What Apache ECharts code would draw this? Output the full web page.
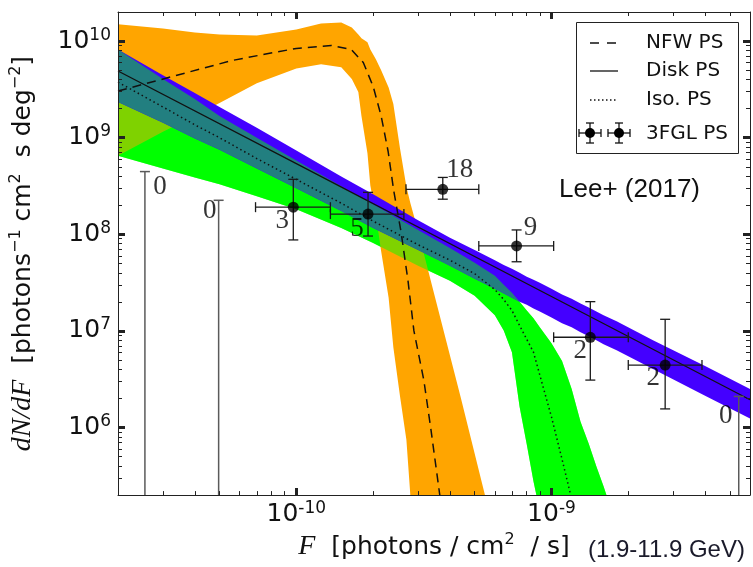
<!DOCTYPE html>
<html>
<head>
<meta charset="utf-8">
<script src="https://cdn.jsdelivr.net/npm/echarts@6/dist/echarts.min.js"></script>
<style>
html, body { margin: 0; padding: 0; background: #fff; }
#main { width: 753px; height: 567px; }
</style>
</head>
<body>
<div id="main"></div>
<script>
// flux grid shared by the disk and isotropic bands
const fluxGrid = [2e-11, 3e-11, 4e-11, 5e-11, 7e-11, 1e-10, 1.5e-10, 2e-10, 3e-10, 4e-10,
  5e-10, 6e-10, 6.5e-10, 7e-10, 7.5e-10, 8e-10, 8.5e-10, 9e-10, 1e-9, 1.1e-9,
  1.2e-9, 1.3e-9, 1.4e-9, 1.5e-9, 1.6e-9, 1.8e-9, 2.5e-9, 4e-9, 6e-9];

// Disk PS band (blue)
const diskHi = [8.2e9, 4.44e9, 2.9e9, 2.08e9, 1.27e9, 7.35e8, 3.97e8, 2.6e8, 1.4e8, 9.2e7,
  6.9e7, 5.4e7, 4.8e7, 4.4e7, 4.0e7, 3.64e7, 3.39e7, 3.16e7, 2.74e7, 2.38e7,
  2.16e7, 1.92e7, 1.75e7, 1.59e7, 1.45e7, 1.26e7, 8.0e6, 4.33e6, 2.51e6];
const diskLo = [2.34e9, 1.43e9, 9.8e8, 7.5e8, 4.8e8, 2.99e8, 1.74e8, 1.16e8, 6.9e7, 4.72e7,
  3.47e7, 2.74e7, 2.44e7, 2.21e7, 2.01e7, 1.87e7, 1.71e7, 1.59e7, 1.38e7, 1.2e7,
  1.09e7, 9.7e6, 8.8e6, 8.0e6, 7.3e6, 6.3e6, 4.04e6, 2.13e6, 1.24e6];
const diskMidF = [2e-11, 1e-10, 1e-9, 6e-9];
const diskMid = [4.9e9, 5.4e8, 2.27e7, 1.94e6];

// Iso PS band (green)
const isoHi = [8.2e9, 4.04e9, 2.52e9, 1.68e9, 1.0e9, 5.8e8, 3.14e8, 2.05e8, 1.11e8, 7.2e7,
  5.07e7, 3.73e7, 3.01e7, 2.49e7, 2.01e7, 1.63e7, 1.35e7, 1.09e7, 7.46e6, 4.88e6,
  2.51e6, 1.15e6, 6.8e5, 3.96e5, 2.47e5, 9.6e4, 1e4, 1e4, 1e4];
const isoLo = [6.5e8, 4.8e8, 3.88e8, 3.29e8, 2.48e8, 1.82e8, 1.16e8, 8.15e7, 4.72e7, 3.31e7,
  2.32e7, 1.45e7, 1.01e7, 6.03e6, 1.64e6, 6.7e5, 2.78e5, 1.37e5, 1e4, 1e4,
  1e4, 1e4, 1e4, 1e4, 1e4, 1e4, 1e4, 1e4, 1e4];
const isoMid = [3.76e9, 2.08e9, 1.36e9, 1.0e9, 6.08e8, 3.7e8, 2.1e8, 1.37e8, 7.8e7, 5.4e7,
  3.91e7, 2.68e7, 2.11e7, 1.63e7, 1.14e7, 8.2e6, 6.03e6, 3.5e6, 1.29e6, 4.7e5, 1.82e5];

// NFW PS band (orange)
const nfwF = [2e-11, 3e-11, 4e-11, 5e-11, 7e-11, 1e-10, 1.25e-10, 1.5e-10, 1.65e-10, 1.75e-10,
  1.8e-10, 1.9e-10, 1.95e-10, 2.05e-10, 2.15e-10, 2.3e-10, 2.4e-10, 2.55e-10, 2.7e-10, 2.8e-10,
  3e-10, 3.5e-10, 4.4e-10, 5.5e-10, 6e-10];
const nfwHi = [1.49e10, 1.35e10, 1.23e10, 1.17e10, 1.14e10, 1.32e10, 1.52e10, 1.56e10, 1.38e10, 1.17e10,
  1.07e10, 9.7e9, 8.2e9, 6.5e9, 5.0e9, 3.3e9, 2.23e9, 7.7e8, 3.1e8, 2.1e8,
  1.08e8, 2.2e7, 2.1e6, 1.95e5, 5e4];
const nfwLo = [6.5e8, 1.15e9, 1.68e9, 2.29e9, 3.67e9, 5.2e9, 5.75e9, 5.37e9, 4.04e9, 2.97e9,
  1.68e9, 6.9e8, 3.2e8, 1.58e8, 6.7e7, 2.2e7, 6.8e6, 2.1e6, 7.5e5, 1.95e5,
  5e4, 5e4, 5e4, 5e4, 5e4];
const nfwMidF = [2e-11, 5.6e-11, 7.5e-11, 1.0e-10, 1.37e-10, 1.64e-10, 1.83e-10, 2.0e-10, 2.15e-10,
  2.29e-10, 2.41e-10, 2.57e-10, 2.74e-10, 2.89e-10, 3.16e-10, 3.37e-10, 3.65e-10];
const nfwMid = [3.04e9, 6.3e9, 7.3e9, 8.4e9, 9.0e9, 8.2e9, 6.0e9, 3.4e9, 1.68e9,
  7.2e8, 2.8e8, 1.08e8, 3.3e7, 1.0e7, 3.1e6, 9.5e5, 2.0e5];

// 3FGL point sources with error bars
const ptF = [9.73e-11, 1.91e-10, 3.75e-10, 7.3e-10, 1.42e-9, 2.79e-9];
const ptY = [1.91e8, 1.62e8, 2.92e8, 7.59e7, 8.6e6, 4.43e6];
const ptFLo = [6.92e-11, 1.36e-10, 2.69e-10, 5.19e-10, 1.02e-9, 2.0e-9];
const ptFHi = [1.36e-10, 2.64e-10, 5.19e-10, 1.02e-9, 2.0e-9, 3.89e-9];
const ptYLo = [8.75e7, 9.6e7, 2.31e8, 5.2e7, 3.1e6, 1.56e6];
const ptYHi = [3.71e8, 2.72e8, 3.88e8, 1.11e8, 2.01e7, 1.32e7];
const ptCount = ['3', '5', '18', '9', '2', '2'];

// empty bins (upper limits)
const ulF = [2.55e-11, 4.96e-11, 5.42e-9];
const ulTop = [4.46e8, 2.25e8, 2.1e6];
const ulCount = ['0', '0', '0'];

const X_MIN = 2e-11, X_MAX = 6e-9, Y_MIN = 2e5, Y_MAX = 2e10;

const lg = Math.log10;
const SANS = '"DejaVu Sans", sans-serif';
const SERIF = '"Liberation Serif", "DejaVu Serif", serif';

// positions of the count labels next to the markers
const countLabelOffsets = [[-11, 14], [-11, 15], [17, -19], [14, -18], [-10, 14], [-12, 13]];
const ulLabelOffsets = [[15, 15], [-9, 11], [-13, 19]];

function decadeTicks(lo, hi) {
  const minor = [];
  for (let n = Math.floor(lo); n <= Math.ceil(hi); n++) {
    for (let k = 2; k <= 9; k++) {
      const v = n + lg(k);
      if (v > lo + 1e-6 && v < hi - 1e-6) minor.push(v);
    }
  }
  return minor;
}
const xr = [lg(X_MIN), lg(X_MAX)], yr = [lg(Y_MIN), lg(Y_MAX)];
const xMajor = [-10, -9], yMajor = [6, 7, 8, 9, 10];
const xMinor = decadeTicks(xr[0], xr[1]), yMinor = decadeTicks(yr[0], yr[1]);

const tickRich = {
  b: { fontFamily: SANS, fontSize: 25, lineHeight: 29, color: '#111' },
  s: { fontFamily: SANS, fontSize: 17, lineHeight: 17, verticalAlign: 'top', color: '#111' }
};
const fmt = v => '{b|10}{s|' + Math.round(v) + '}';

function axisSet(dim, pos, range, major, minor, withLabels) {
  const base = { type: 'value', position: pos, min: range[0], max: range[1], z: 10,
    splitLine: { show: false }, axisPointer: { show: false } };
  return [
    Object.assign({}, base, {
      axisLine: { show: true, lineStyle: { color: '#222', width: 1 } },
      axisTick: { show: true, inside: true, length: 4, customValues: minor, lineStyle: { color: '#222', width: 1 } },
      axisLabel: withLabels ? { show: true, customValues: major, formatter: fmt, rich: tickRich, margin: dim === 'x' ? 5 : 7 } : { show: false }
    }),
    Object.assign({}, base, {
      axisLine: { show: false },
      axisTick: { show: true, inside: true, length: 7, customValues: major, lineStyle: { color: '#222', width: 3 } },
      axisLabel: { show: false }
    })
  ];
}

const xAxes = axisSet('x', 'bottom', xr, xMajor, xMinor, true).concat(axisSet('x', 'top', xr, xMajor, xMinor, false));
const yAxes = axisSet('y', 'left', yr, yMajor, yMinor, true).concat(axisSet('y', 'right', yr, yMajor, yMinor, false));

const nameRich = {
  i: { fontFamily: SERIF, fontStyle: 'italic', fontSize: 28, lineHeight: 30, color: '#111' },
  s: { fontFamily: SANS, fontSize: 16, lineHeight: 16, verticalAlign: 'top', color: '#111' }
};
xAxes[0].name = '{i|F}  [photons / cm{s|2}  / s]';
xAxes[0].nameLocation = 'middle';
xAxes[0].nameGap = 36;
xAxes[0].nameTextStyle = { fontFamily: SANS, fontSize: 25, color: '#111', lineHeight: 30, rich: nameRich };

yAxes[0].name = '{i|dN/dF}  [photons{s|\u22121} cm{s|2}  s deg{s|\u22122}]';
yAxes[0].nameLocation = 'middle';
yAxes[0].nameRotate = 90;
yAxes[0].nameGap = 80;
yAxes[0].nameTextStyle = { fontFamily: SANS, fontSize: 25, color: '#111', lineHeight: 30, rich: nameRich };

// each band = invisible lower line + stacked width with a filled area;
// values are given as [y, x] so that the stacking happens on y
function bandSeries(id, xs, lo, hi, color, opacity, z) {
  const common = { type: 'line', stack: id, stackStrategy: 'all', z: z, symbol: 'none', silent: true,
    encode: { x: 1, y: 0 }, lineStyle: { width: 0, opacity: 0 } };
  return [
    Object.assign({ id: id + 'Lo', data: xs.map((x, i) => [lg(lo[i]), lg(x)]) }, common),
    Object.assign({ id: id + 'Hi', areaStyle: { color: color, opacity: opacity },
      data: xs.map((x, i) => [Math.max(0, lg(hi[i]) - lg(lo[i])), lg(x)]) }, common)
  ];
}

// overlap of the disk and isotropic bands
const bothLo = fluxGrid.map((_, i) => Math.max(diskLo[i], isoLo[i]));
const bothHi = fluxGrid.map((_, i) => Math.max(bothLo[i], Math.min(diskHi[i], isoHi[i])));

function curve(xs, ys, type, width, z) {
  return { type: 'line', z: z, symbol: 'none', silent: true,
    lineStyle: { color: '#111', width: width, type: type },
    data: xs.map((x, i) => [lg(x), lg(ys[i])]) };
}

function seg(x1, y1, x2, y2, color, w) {
  return { type: 'line', shape: { x1: x1, y1: y1, x2: x2, y2: y2 }, style: { stroke: color, lineWidth: w } };
}

const errorBars = {
  type: 'custom', z: 7, silent: true,
  data: ptF.map((f, i) => [lg(f), lg(ptY[i]), lg(ptFLo[i]), lg(ptFHi[i]), lg(ptYLo[i]), lg(ptYHi[i])]),
  encode: { x: 0, y: 1 },
  renderItem: function (params, api) {
    const p = api.coord([api.value(0), api.value(1)]);
    const xl = api.coord([api.value(2), api.value(1)])[0];
    const xh = api.coord([api.value(3), api.value(1)])[0];
    const yl = api.coord([api.value(0), api.value(4)])[1];
    const yh = api.coord([api.value(0), api.value(5)])[1];
    const c = 5, col = '#1a1a1a', w = 1.3;
    return { type: 'group', children: [
      seg(xl, p[1], xh, p[1], col, w), seg(xl, p[1] - c, xl, p[1] + c, col, w), seg(xh, p[1] - c, xh, p[1] + c, col, w),
      seg(p[0], yh, p[0], yl, col, w), seg(p[0] - c, yh, p[0] + c, yh, col, w), seg(p[0] - c, yl, p[0] + c, yl, col, w)
    ] };
  }
};

const upperLimits = {
  type: 'custom', z: 7, silent: true,
  data: ulF.map((f, i) => [lg(f), lg(ulTop[i]), lg(Y_MIN)]),
  encode: { x: 0, y: 1 },
  renderItem: function (params, api) {
    const t = api.coord([api.value(0), api.value(1)]);
    const b = api.coord([api.value(0), api.value(2)]);
    const col = '#5a5a5a', w = 1.5;
    return { type: 'group', children: [
      seg(t[0], t[1], b[0], b[1], col, w), seg(t[0] - 5, t[1], t[0] + 5, t[1], col, w)
    ] };
  }
};

const labelStyle = { show: true, position: 'inside', fontFamily: SERIF, fontSize: 27, color: '#000' };

const points = {
  type: 'scatter', z: 8, silent: true, symbol: 'circle', symbolSize: 11,
  itemStyle: { color: '#000' },
  data: ptF.map((f, i) => ({ value: [lg(f), lg(ptY[i])],
    label: Object.assign({}, labelStyle, { formatter: ptCount[i], offset: countLabelOffsets[i] }) }))
};

const ulLabels = {
  type: 'scatter', z: 8, silent: true, symbolSize: 0,
  data: ulF.map((f, i) => ({ value: [lg(f), lg(ulTop[i])],
    label: Object.assign({}, labelStyle, { formatter: ulCount[i], offset: ulLabelOffsets[i] }) }))
};

// legend drawn by hand: dashed / solid / dotted samples and the error bar marker
function legendMarker(cx, cy) {
  return [
    seg(cx - 11, cy, cx + 11, cy, '#111', 1.3), seg(cx - 11, cy - 4, cx - 11, cy + 4, '#111', 1.3),
    seg(cx + 11, cy - 4, cx + 11, cy + 4, '#111', 1.3), seg(cx, cy - 10, cx, cy + 10, '#111', 1.3),
    seg(cx - 4, cy - 10, cx + 4, cy - 10, '#111', 1.3), seg(cx - 4, cy + 10, cx + 4, cy + 10, '#111', 1.3),
    { type: 'circle', shape: { cx: cx, cy: cy, r: 5 }, style: { fill: '#000' } }
  ];
}
const legendText = (t, y) => ({ type: 'text', x: 646, y: y,
  style: { text: t, font: '20px ' + SANS, fill: '#111', verticalAlign: 'middle' } });

const legendGroup = {
  type: 'group', z: 100, children: [
    { type: 'rect', shape: { x: 576.5, y: 22.5, width: 162, height: 131 }, style: { fill: '#fff', stroke: '#222', lineWidth: 1 } },
    { type: 'line', shape: { x1: 590, y1: 43, x2: 618, y2: 43 }, style: { stroke: '#111', lineWidth: 1.5, lineDash: [9, 8] } },
    { type: 'line', shape: { x1: 590, y1: 71, x2: 618, y2: 71 }, style: { stroke: '#111', lineWidth: 1.3 } },
    { type: 'line', shape: { x1: 590, y1: 100, x2: 618, y2: 100 }, style: { stroke: '#111', lineWidth: 1.3, lineDash: [1.5, 2.5] } },
    legendText('NFW PS', 43), legendText('Disk PS', 71), legendText('Iso. PS', 100), legendText('3FGL PS', 134)
  ].concat(legendMarker(590, 133), legendMarker(619, 133))
};

const chart = echarts.init(document.getElementById('main'), null, { renderer: 'canvas' });
chart.setOption({
  animation: false,
  backgroundColor: '#fff',
  grid: { left: 116, right: 3, top: 12, bottom: 68 },
  xAxis: xAxes,
  yAxis: yAxes,
  graphic: [
    legendGroup,
    { type: 'text', x: 700, y: 190, z: 100,
      style: { text: 'Lee+ (2017)', font: '26px "Liberation Sans", Arial, sans-serif', fill: '#111', align: 'right', verticalAlign: 'middle' } },
    { type: 'text', x: 588, y: 550, z: 100,
      style: { text: '(1.9-11.9 GeV)', font: '24px "Liberation Sans", Arial, sans-serif', fill: '#1a1a2a', verticalAlign: 'middle' } }
  ],
  series: [].concat(
    bandSeries('isoOpaque', fluxGrid, isoLo, isoHi, '#00ff00', 1, 1),
    bandSeries('nfw', nfwF, nfwLo, nfwHi, '#ffa500', 1, 2),
    bandSeries('isoOverNfw', fluxGrid, isoLo, isoHi, '#00ff00', 0.5, 3),
    bandSeries('disk', fluxGrid, diskLo, diskHi, '#4400ff', 1, 4),
    bandSeries('diskIso', fluxGrid, bothLo, bothHi, '#227f80', 1, 5),
    [
      curve(nfwMidF, nfwMid, [9, 6], 1.5, 6),
      curve(diskMidF, diskMid, 'solid', 1.3, 6),
      curve(fluxGrid.slice(0, isoMid.length), isoMid, [1.5, 3], 1.5, 6),
      upperLimits, errorBars, points, ulLabels
    ]
  )
});
</script>
</body>
</html>
